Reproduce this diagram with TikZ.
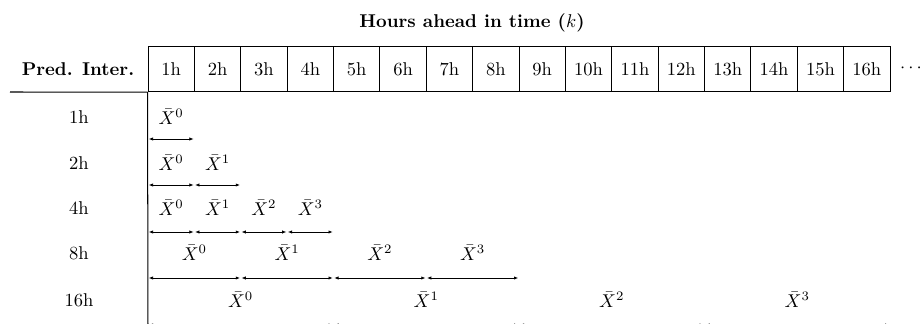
\documentclass[tikz,border=0pt]{standalone}
\usetikzlibrary{arrows.meta}
\begin{document}
\begin{tikzpicture}[x=0.54pt,y=-0.54pt,
  cell/.style={draw, line width=0.5pt, minimum width=25.04pt, minimum height=24.4pt, inner sep=0pt},
  rule/.style={line width=0.55pt},
  span/.style={{Latex[length=2.3pt,width=1.8pt]}-{Latex[length=2.3pt,width=1.8pt]}, line width=0.4pt, shorten >=0.4pt, shorten <=0.4pt},
  lab/.style={inner sep=0pt}]
\useasboundingbox (0,0) rectangle (922,324);
\node[font=\bfseries] (title) at (472,23) {Hours ahead in time ($k$)};
\node[font=\bfseries] (pred) at (78,69) {Pred. Inter.};
\foreach \i in {1,...,16}
  \node[cell] (c\i) at ({148+46.375*(\i-0.5)},69.1) {\i h};
\node (dots) at (911,68) {$\cdots$};
\coordinate (hl) at (10,92);
\coordinate (vb) at (148,330);
\draw[rule] (hl) -- (c1.south west);
\draw[rule] (c1.south west) -- (vb);
\foreach \r/\n/\w/\ay/\ly/\name in {1/1/1/139/117/1h, 2/2/1/185/163/2h, 3/4/1/232/208/4h, 4/4/2/278/253/8h, 5/4/4/325/300/16h} {
  \node (row\r) at (79,\ly) {\name};
  \foreach \k in {0,...,\n}
    \coordinate (a\r-\k) at ({148+46.375*\w*\k},\ay);
  \foreach \k [evaluate=\k as \km using int(\k-1)] in {1,...,\n} {
    \draw[span] (a\r-\km) -- (a\r-\k);
    \node[lab] (x\r-\k) at ({148+46.375*\w*(\k-0.5)},\ly) {$\bar{X}^{\km}$};
  }
}
\end{tikzpicture}
\end{document}
